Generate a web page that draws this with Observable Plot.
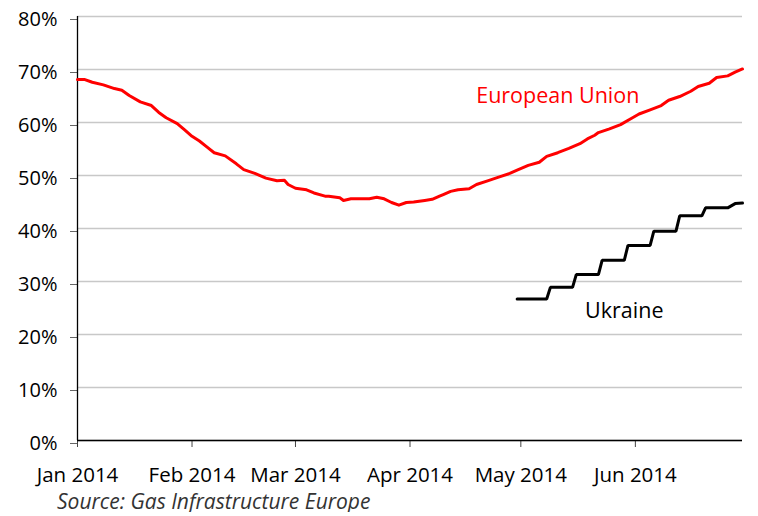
<!DOCTYPE html>
<html>
<head>
<meta charset="utf-8">
<script src="https://cdn.jsdelivr.net/npm/d3@7"></script>
<script src="https://cdn.jsdelivr.net/npm/@observablehq/plot@0.6"></script>
<style>
  html, body { margin: 0; padding: 0; background: #fff; }
  #caption { font: italic 21px "Open Sans", sans-serif; color: #333; margin: 0 0 0 57px; line-height: 22px; white-space: nowrap; }
</style>
</head>
<body>
<div id="chart"></div>
<div id="caption">Source: Gas Infrastructure Europe</div>
<script>
// European Union gas storage filling level (%)
const euDates = ["2014-01-01","2014-01-03","2014-01-05","2014-01-08","2014-01-11","2014-01-13","2014-01-15","2014-01-18","2014-01-21","2014-01-23","2014-01-25","2014-01-28","2014-01-30","2014-02-01","2014-02-03","2014-02-05","2014-02-07","2014-02-10","2014-02-13","2014-02-15","2014-02-18","2014-02-21","2014-02-24","2014-02-26","2014-02-27","2014-03-01","2014-03-04","2014-03-06","2014-03-09","2014-03-10","2014-03-13","2014-03-14","2014-03-16","2014-03-21","2014-03-23","2014-03-25","2014-03-27","2014-03-29","2014-03-31","2014-04-02","2014-04-05","2014-04-07","2014-04-09","2014-04-10","2014-04-12","2014-04-14","2014-04-17","2014-04-19","2014-04-22","2014-04-25","2014-04-28","2014-04-30","2014-05-03","2014-05-06","2014-05-08","2014-05-11","2014-05-14","2014-05-17","2014-05-19","2014-05-21","2014-05-22","2014-05-25","2014-05-28","2014-05-31","2014-06-02","2014-06-05","2014-06-08","2014-06-10","2014-06-13","2014-06-16","2014-06-18","2014-06-21","2014-06-23","2014-06-26","2014-06-28","2014-06-30"];
const euValues = [68.1,68.1,67.6,67.1,66.4,66.1,65.1,63.9,63.2,61.9,60.9,59.8,58.6,57.4,56.5,55.4,54.3,53.7,52.2,51.1,50.4,49.5,49.0,49.1,48.3,47.6,47.3,46.7,46.1,46.1,45.8,45.3,45.6,45.6,45.9,45.6,44.9,44.4,44.9,45.0,45.3,45.5,46.1,46.4,47.0,47.3,47.5,48.3,49.0,49.7,50.4,51.0,51.9,52.5,53.6,54.3,55.1,56.0,56.9,57.6,58.1,58.8,59.6,60.8,61.6,62.4,63.2,64.2,64.9,65.9,66.8,67.4,68.5,68.8,69.5,70.1];

// Ukraine gas storage filling level (%), weekly steps
const uaDates = ["2014-04-30","2014-05-08","2014-05-09","2014-05-15","2014-05-16","2014-05-22","2014-05-23","2014-05-29","2014-05-30","2014-06-05","2014-06-06","2014-06-12","2014-06-13","2014-06-19","2014-06-20","2014-06-26","2014-06-28","2014-06-30"];
const uaValues = [26.7,26.7,28.9,28.9,31.3,31.3,34.0,34.0,36.8,36.8,39.5,39.5,42.4,42.4,43.9,43.9,44.7,44.8];

// Axes
const yTicks = [0,10,20,30,40,50,60,70,80];
const xTickDates = ["2014-01-01","2014-02-01","2014-03-01","2014-04-01","2014-05-01","2014-06-01"];
const xTickLabels = ["Jan 2014","Feb 2014","Mar 2014","Apr 2014","May 2014","Jun 2014"];
const xDomain = ["2014-01-01","2014-06-30"];

// Series labels
const labelNames = ["European Union","Ukraine"];
const labelDates = ["2014-05-11","2014-05-29"];
const labelValues = [64.9,24.5];
const labelColors = ["#ff0000","#000000"];

const eu = euDates.map((d, i) => ({date: new Date(d), value: euValues[i]}));
const ua = uaDates.map((d, i) => ({date: new Date(d), value: uaValues[i]}));
const labels = labelNames.map((n, i) => ({name: n, date: new Date(labelDates[i]), value: labelValues[i], color: labelColors[i]}));
const tickDates = xTickDates.map(d => new Date(d));
const tickLabelOf = d => xTickLabels[tickDates.findIndex(t => +t === +d)];

const chart = Plot.plot({
  width: 758,
  height: 490,
  marginLeft: 77,
  marginRight: 16,
  marginTop: 16,
  marginBottom: 50,
  style: {fontFamily: "Open Sans, sans-serif", fontSize: "20px", color: "#000", background: "#fff", overflow: "visible"},
  x: {type: "utc", domain: xDomain.map(d => new Date(d))},
  y: {domain: [0, 80]},
  marks: [
    Plot.gridY(yTicks, {stroke: "#c8c8c8", strokeOpacity: 1, strokeWidth: 1.3}),
    Plot.axisY({ticks: yTicks, tickFormat: d => d + "%", tickSize: 7, tickPadding: 13, dy: 3, stroke: "#666", fill: "#000", label: null, fontSize: 20}),
    Plot.axisX({ticks: tickDates, tickFormat: tickLabelOf, tickSize: 7, tickPadding: 20, stroke: "#444", fill: "#000", label: null, fontSize: 20.5}),
    Plot.ruleY([0], {stroke: "#000", strokeWidth: 1.3}),
    Plot.ruleX([new Date(xDomain[0])], {y1: 0, y2: 80, stroke: "#000", strokeWidth: 1.3}),
    Plot.line(eu, {x: "date", y: "value", stroke: "#ff0000", strokeWidth: 3}),
    Plot.line(ua, {x: "date", y: "value", stroke: "#000", strokeWidth: 3, strokeLinejoin: "miter"}),
    Plot.text(labels, {x: "date", y: "value", text: "name", fill: "color", fontSize: 21.5, textAnchor: "middle"})
  ]
});
document.getElementById("chart").appendChild(chart);
</script>
</body>
</html>
